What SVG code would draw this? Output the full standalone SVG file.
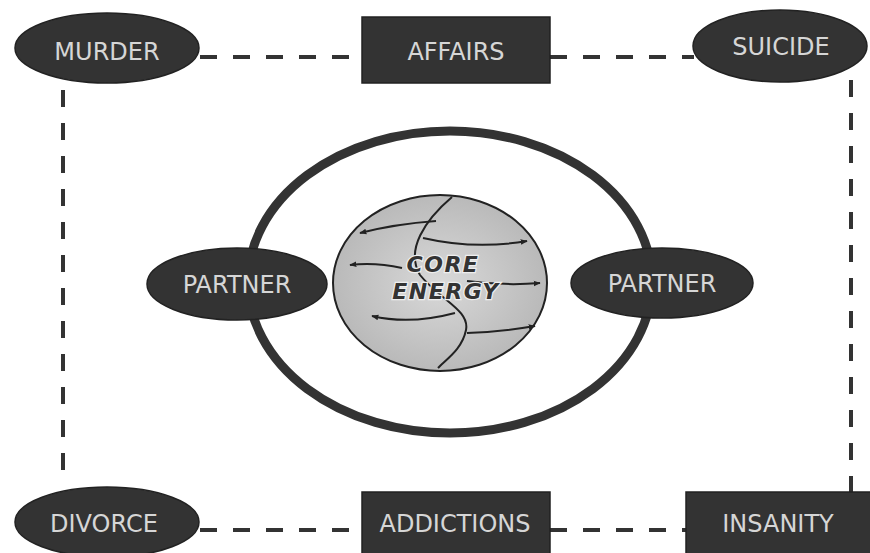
<svg xmlns="http://www.w3.org/2000/svg" width="870" height="553" viewBox="0 0 870 553">
<style>
.node{fill:#333;stroke:#222;stroke-width:1.5}
.lbl{font-family:"DejaVu Sans",sans-serif;font-size:24px;fill:#d6d6d6;text-anchor:middle}
.dash{stroke:#333;stroke-width:4;stroke-dasharray:17 16;fill:none}
.glb{stroke:#222;stroke-width:2;fill:none}
.core{font-family:"DejaVu Sans",sans-serif;font-weight:bold;font-style:italic;font-size:22px;fill:#333;text-anchor:middle;stroke:#eee;stroke-width:2.5;paint-order:stroke;letter-spacing:1.5px}
</style>
<defs>
<marker id="ah" viewBox="0 0 10 10" refX="9" refY="5" markerWidth="7" markerHeight="7" orient="auto" markerUnits="userSpaceOnUse">
<path d="M0,1 L10,5 L0,9 z" fill="#222"/>
</marker>
<radialGradient id="gg" cx="0.5" cy="0.5" r="0.6">
<stop offset="0" stop-color="#d9d9d9"/>
<stop offset="1" stop-color="#b3b3b3"/>
</radialGradient>
</defs>
<rect width="870" height="553" fill="#fff"/>
<g id="connectors">
<line class="dash" x1="200" y1="57" x2="362" y2="57"/>
<line class="dash" x1="550" y1="57" x2="694" y2="57"/>
<line class="dash" x1="63" y1="90" x2="63" y2="486"/>
<line class="dash" x1="851" y1="80" x2="851" y2="492"/>
<line class="dash" x1="200" y1="530" x2="362" y2="530"/>
<line class="dash" x1="550" y1="530" x2="686" y2="530"/>
</g>
<g id="ring">
<ellipse cx="450" cy="282" rx="202" ry="151" fill="none" stroke="#333" stroke-width="9"/>
</g>
<g id="core">
<ellipse cx="440" cy="283" rx="107" ry="88" fill="url(#gg)" stroke="#222" stroke-width="2"/>
<path class="glb" d="M452 197 C425 220 405 250 420 275 C440 300 470 310 466 330 C462 350 445 360 438 368"/>
<path class="glb" marker-end="url(#ah)" d="M436 221 Q395 224 360 233"/>
<path class="glb" marker-end="url(#ah)" d="M423 238 Q475 250 527 241"/>
<path class="glb" marker-end="url(#ah)" d="M402 268 Q375 262 350 265"/>
<path class="glb" marker-end="url(#ah)" d="M467 281 Q505 286 540 283"/>
<path class="glb" marker-end="url(#ah)" d="M455 313 Q410 325 372 316"/>
<path class="glb" marker-end="url(#ah)" d="M467 333 Q500 332 535 326"/>
<text class="core" x="443" y="272">CORE</text>
<text class="core" x="446" y="299">ENERGY</text>
</g>
<g id="murder"><ellipse class="node" cx="107" cy="48" rx="92" ry="35"/><text class="lbl" x="107" y="60">MURDER</text></g>
<g id="affairs"><rect class="node" x="362" y="17" width="188" height="66"/><text class="lbl" x="456" y="60">AFFAIRS</text></g>
<g id="suicide"><ellipse class="node" cx="780" cy="46" rx="87" ry="36"/><text class="lbl" x="781" y="55">SUICIDE</text></g>
<g id="partner-left"><ellipse class="node" cx="237" cy="284" rx="90" ry="36"/><text class="lbl" x="237" y="293">PARTNER</text></g>
<g id="partner-right"><ellipse class="node" cx="662" cy="283" rx="91" ry="35"/><text class="lbl" x="662" y="292">PARTNER</text></g>
<g id="divorce"><ellipse class="node" cx="107" cy="522" rx="92" ry="35"/><text class="lbl" x="104" y="532">DIVORCE</text></g>
<g id="addictions"><rect class="node" x="362" y="492" width="188" height="70"/><text class="lbl" x="455" y="532">ADDICTIONS</text></g>
<g id="insanity"><rect class="node" x="686" y="492" width="190" height="70"/><text class="lbl" x="778" y="532">INSANITY</text></g>
</svg>
